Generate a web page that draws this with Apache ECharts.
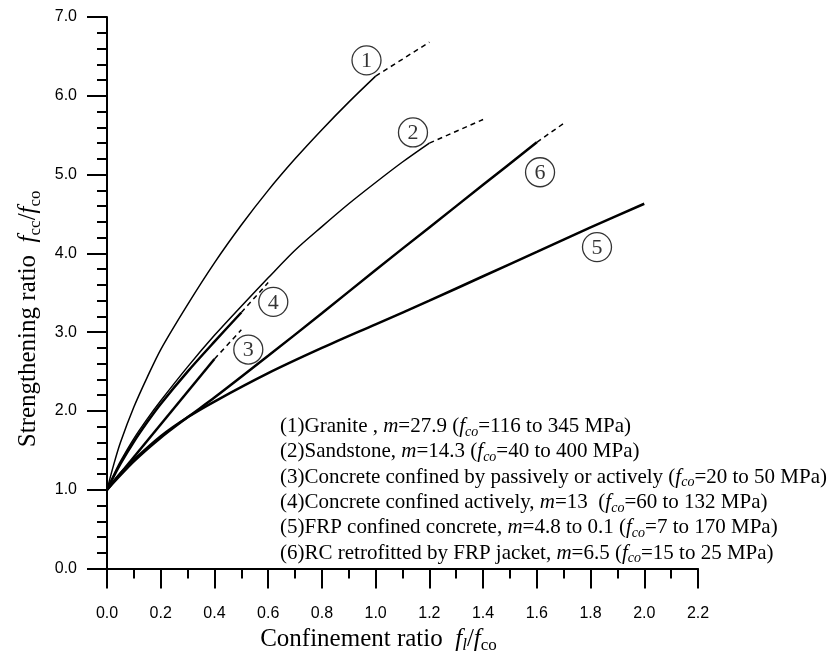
<!DOCTYPE html>
<html>
<head>
<meta charset="utf-8">
<script src="https://cdn.jsdelivr.net/npm/echarts/dist/echarts.min.js"></script>
<style>
  html, body { margin: 0; padding: 0; background: #fff; }
  #chart { width: 839px; height: 659px; }
</style>
</head>
<body>
<div id="chart"></div>
<script>
// (1) granite
const graniteX = [0, 0.025, 0.05, 0.1, 0.15, 0.2, 0.3, 0.4, 0.5, 0.6, 0.7, 0.8, 0.9, 1.0];
const graniteY = [1, 1.32, 1.6, 2.05, 2.43, 2.78, 3.35, 3.88, 4.36, 4.8, 5.2, 5.57, 5.92, 6.25];
const graniteDashX = [1.0, 1.2];
const graniteDashY = [6.25, 6.68];
// (2) sandstone
const sandX = [0, 0.025, 0.05, 0.1, 0.15, 0.2, 0.3, 0.4, 0.5, 0.6, 0.7, 0.8, 0.9, 1.0, 1.1, 1.2];
const sandY = [1, 1.19, 1.36, 1.65, 1.9, 2.13, 2.56, 2.96, 3.33, 3.69, 4.04, 4.34, 4.63, 4.9, 5.16, 5.40];
const sandDashX = [1.2, 1.4];
const sandDashY = [5.40, 5.70];
// (3) concrete, passive or active
const passiveX = [0, 0.4];
const passiveY = [1, 2.66];
const passiveDashX = [0.4, 0.5];
const passiveDashY = [2.66, 3.03];
// (4) concrete, active
const activeX = [0, 0.025, 0.05, 0.1, 0.15, 0.2, 0.3, 0.4, 0.5];
const activeY = [1, 1.17, 1.33, 1.61, 1.86, 2.09, 2.5, 2.88, 3.25];
const activeDashX = [0.5, 0.6];
const activeDashY = [3.25, 3.63];
// (5) FRP confined concrete
const frpX = [0, 0.05, 0.1, 0.2, 0.3, 0.4, 0.6, 0.8, 1.0, 1.2, 1.4, 1.6, 1.8, 2.0];
const frpY = [1, 1.21, 1.38, 1.68, 1.92, 2.12, 2.48, 2.8, 3.1, 3.4, 3.71, 4.02, 4.33, 4.63];
// (6) RC retrofitted by FRP jacket
const rcX = [0, 0.1, 0.2, 0.3, 0.4, 0.6, 0.8, 1.0, 1.2, 1.4, 1.6];
const rcY = [1, 1.36, 1.66, 1.92, 2.17, 2.7, 3.24, 3.79, 4.33, 4.87, 5.41];
const rcDashX = [1.6, 1.7];
const rcDashY = [5.41, 5.65];

// circled curve numbers
const markerX = [0.966, 1.139, 0.526, 0.619, 1.824, 1.612];
const markerY = [6.45, 5.535, 2.78, 3.385, 4.08, 5.03];
const markerText = ['1', '2', '3', '4', '5', '6'];

const legendRows = [
  '{n|(1)Granite , }{i|m}{n|=27.9 (}{i|f}{s|co}{n|=116 to 345 MPa)}',
  '{n|(2)Sandstone, }{i|m}{n|=14.3 (}{i|f}{s|co}{n|=40 to 400 MPa)}',
  '{n|(3)Concrete confined by passively or actively (}{i|f}{s|co}{n|=20 to 50 MPa)}',
  '{n|(4)Concrete confined actively, }{i|m}{n|=13  (}{i|f}{s|co}{n|=60 to 132 MPa)}',
  '{n|(5)FRP confined concrete, }{i|m}{n|=4.8 to 0.1 (}{i|f}{s|co}{n|=7 to 170 MPa)}',
  '{n|(6)RC retrofitted by FRP jacket, }{i|m}{n|=6.5 (}{i|f}{s|co}{n|=15 to 25 MPa)}'
];

const zip = (xs, ys) => xs.map((x, i) => [x, ys[i]]);
const serif = 'Liberation Serif, Times New Roman, serif';

function solid(xs, ys, w) {
  return {
    type: 'line', data: zip(xs, ys), showSymbol: false, smooth: 0.3,
    lineStyle: { color: '#000', width: w }, silent: true
  };
}
function dashed(xs, ys) {
  return {
    type: 'line', data: zip(xs, ys), showSymbol: false,
    lineStyle: { color: '#000', width: 1.5, type: [5, 4] }, silent: true
  };
}

const chart = echarts.init(document.getElementById('chart'));

const titleRich = (size) => ({
  n: { fontFamily: serif, fontSize: size, lineHeight: 30, verticalAlign: 'middle', color: '#000' },
  i: { fontFamily: serif, fontSize: size, fontStyle: 'italic', lineHeight: 30, verticalAlign: 'middle', color: '#000' },
  s: { fontFamily: serif, fontSize: size * 0.68, lineHeight: size * 0.68, verticalAlign: 'bottom', color: '#000' },
  si: { fontFamily: serif, fontSize: size * 0.68, fontStyle: 'italic', lineHeight: size * 0.68, verticalAlign: 'bottom', color: '#000' }
});

chart.setOption({
  animation: false,
  grid: { left: 107, top: 17, right: 141, bottom: 78 },
  xAxis: {
    type: 'value', min: 0, max: 2.2, interval: 0.2,
    name: '{n|Confinement ratio  }{i|f}{si|l}{n|/}{i|f}{s|co}',
    nameLocation: 'middle', nameGap: 50,
    nameTextStyle: { rich: titleRich(25), padding: [0, 48, 0, 0] },
    axisLine: { lineStyle: { color: '#000', width: 2 } },
    axisTick: { length: 20, lineStyle: { color: '#000', width: 2 } },
    minorTick: { show: true, splitNumber: 2, length: 10, lineStyle: { color: '#000', width: 2 } },
    splitLine: { show: false },
    axisLabel: {
      margin: 37, color: '#000', fontFamily: 'Liberation Sans, Arial', fontSize: 16,
      formatter: v => v.toFixed(1)
    }
  },
  yAxis: {
    type: 'value', min: 0, max: 7, interval: 1,
    name: '{n|Strengthening ratio  }{i|f}{s|cc}{n|/}{i|f}{s|co}',
    nameLocation: 'middle', nameGap: 62,
    nameTextStyle: { rich: titleRich(25), padding: [0, 52, 0, 0] },
    axisLine: { lineStyle: { color: '#000', width: 2 } },
    axisTick: { length: 20, lineStyle: { color: '#000', width: 2 } },
    minorTick: { show: true, splitNumber: 5, length: 10, lineStyle: { color: '#000', width: 2 } },
    splitLine: { show: false },
    axisLabel: {
      margin: 30, color: '#000', fontFamily: 'Liberation Sans, Arial', fontSize: 16,
      formatter: v => v.toFixed(1)
    }
  },
  series: [
    solid(graniteX, graniteY, 1.5),
    dashed(graniteDashX, graniteDashY),
    solid(sandX, sandY, 1.5),
    dashed(sandDashX, sandDashY),
    solid(passiveX, passiveY, 2.5),
    dashed(passiveDashX, passiveDashY),
    solid(activeX, activeY, 2.5),
    dashed(activeDashX, activeDashY),
    solid(frpX, frpY, 2.5),
    solid(rcX, rcY, 2.5),
    dashed(rcDashX, rcDashY),
    {
      type: 'scatter', silent: true, z: 5,
      data: markerX.map((x, i) => [x, markerY[i], markerText[i]]),
      symbol: 'circle', symbolSize: 29,
      itemStyle: { color: 'rgba(0,0,0,0)', borderColor: '#000', borderWidth: 1.3 },
      label: {
        show: true, position: 'inside', formatter: p => p.value[2],
        fontFamily: serif, fontSize: 22, color: '#000', offset: [0, 1]
      }
    }
  ],
  graphic: [{
    type: 'text', left: 280, top: 416, silent: true,
    style: {
      text: legendRows.join('\n'),
      rich: {
        n: { fontFamily: serif, fontSize: 21, lineHeight: 25.3, verticalAlign: 'middle', fill: '#000' },
        i: { fontFamily: serif, fontSize: 21, fontStyle: 'italic', lineHeight: 25.3, verticalAlign: 'middle', fill: '#000' },
        s: { fontFamily: serif, fontSize: 14, fontStyle: 'italic', lineHeight: 14, verticalAlign: 'bottom', fill: '#000' }
      }
    }
  }]
});
</script>
</body>
</html>
